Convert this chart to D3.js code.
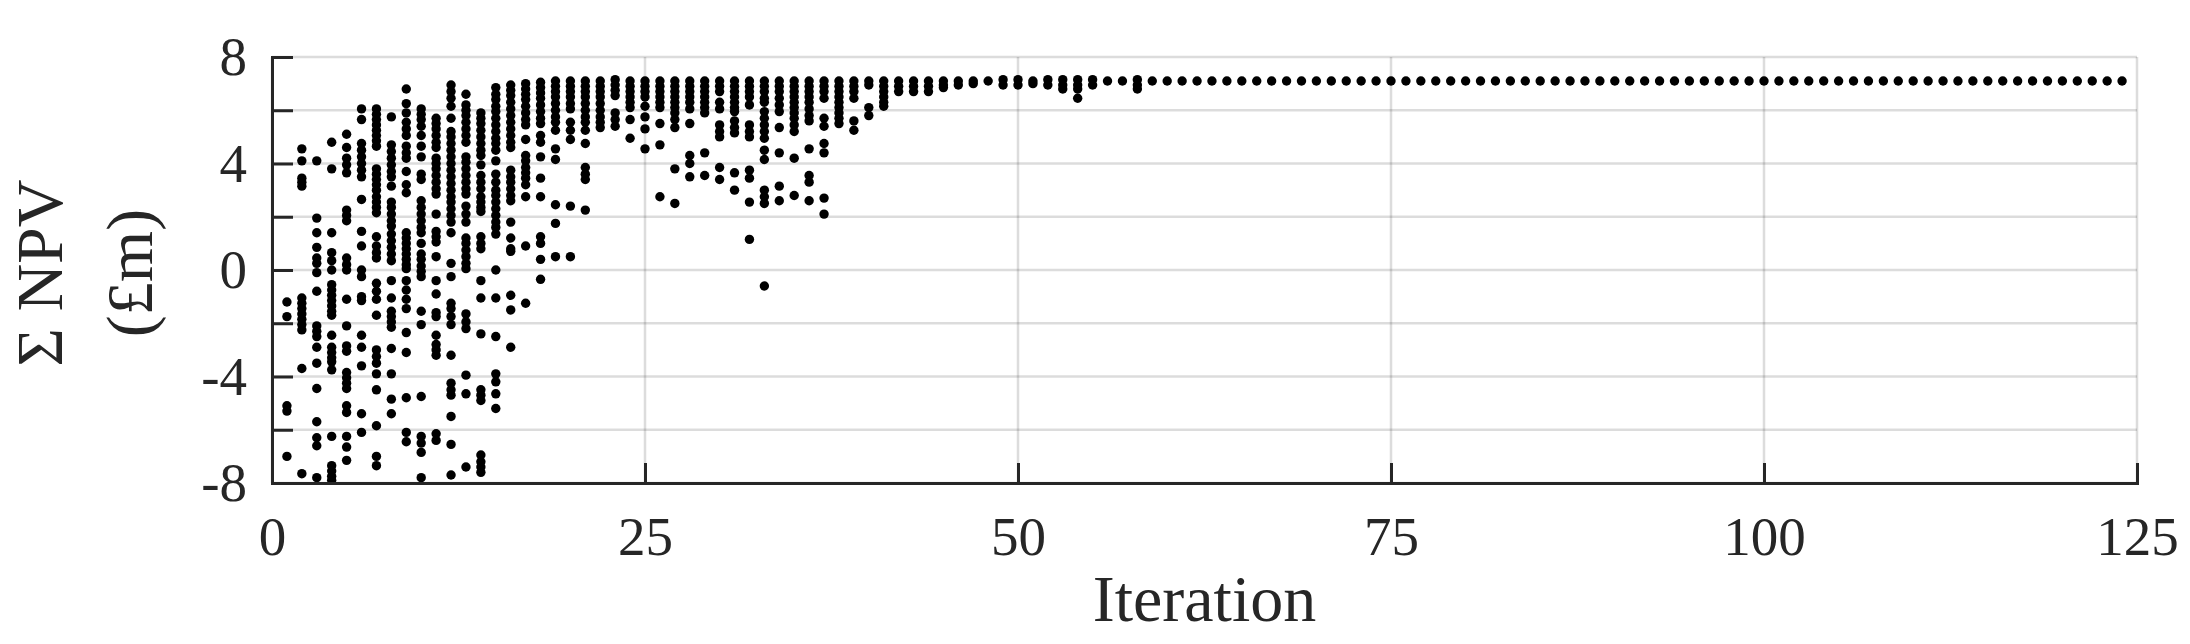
<!DOCTYPE html>
<html>
<head>
<meta charset="utf-8">
<script src="https://cdn.jsdelivr.net/npm/d3@7"></script>
<style>
  body { margin: 0; background: #fff; }
  svg text { font-family: "Liberation Serif", "Times New Roman", serif; fill: #262626; }
</style>
</head>
<body>
<div id="chart"></div>
<script>
// NPV of every candidate, one list per iteration (iteration = first + index)
var npvIter01to10 = [
  [-1.2, -1.75, -5.1, -5.3, -7.0],
  [4.55, 4.1, 3.45, 3.3, 3.15, -1.05, -1.25, -1.45, -1.65, -1.85, -2.05, -2.25, -3.7, -7.65],
  [4.1, 1.95, 1.4, 0.85, 0.45, 0.25, -0.1, -0.8, -2.1, -2.3, -2.5, -2.9, -3.5, -4.45, -5.7, -6.3, -6.6, -7.8],
  [4.8, 3.8, 1.4, 0.65, 0.35, 0.0, -0.55, -0.75, -0.95, -1.15, -1.35, -1.55, -1.7, -2.45, -2.9, -3.1, -3.3, -3.45, -3.75, -6.25, -7.35, -7.55, -7.75, -7.9],
  [5.1, 4.6, 4.2, 3.95, 3.65, 2.25, 2.05, 1.85, 0.45, 0.2, 0.0, -1.1, -2.1, -2.85, -3.05, -3.85, -4.05, -4.25, -4.45, -5.1, -5.35, -6.25, -6.65, -7.15],
  [6.05, 5.65, 4.75, 4.5, 4.25, 4.0, 3.75, 3.5, 2.65, 1.45, 0.9, 0.0, -0.25, -1.0, -1.15, -2.45, -2.9, -3.6, -5.4, -6.1],
  [6.05, 5.85, 5.65, 5.45, 5.25, 5.05, 4.85, 4.65, 3.8, 3.6, 3.4, 3.2, 3.0, 2.75, 2.55, 2.35, 2.15, 1.25, 0.9, 0.65, 0.45, -0.5, -0.8, -1.1, -1.7, -3.0, -3.25, -3.5, -3.9, -4.5, -5.85, -7.0, -7.35],
  [5.75, 4.7, 4.45, 4.2, 3.95, 3.7, 3.5, 3.15, 2.55, 2.35, 2.1, 1.85, 1.65, 1.35, 1.1, 0.85, 0.6, 0.35, -0.4, -1.05, -1.55, -1.75, -1.95, -2.15, -2.95, -3.9, -4.85, -5.4],
  [6.8, 6.25, 5.9, 5.55, 5.3, 5.05, 4.65, 4.4, 4.2, 3.7, 3.2, 2.9, 1.4, 1.2, 1.0, 0.8, 0.6, 0.4, 0.2, 0.05, -0.4, -0.75, -1.1, -1.45, -2.35, -3.1, -4.8, -6.1, -6.45],
  [6.05, 5.85, 5.65, 5.4, 5.05, 4.65, 4.25, 3.6, 3.4, 2.6, 2.35, 2.1, 1.85, 1.6, 1.4, 1.0, 0.6, 0.4, 0.15, -0.05, -0.25, -1.55, -2.05, -4.75, -6.25, -6.5, -6.85, -7.8]
];

var npvIter11to20 = [
  [5.7, 5.5, 5.3, 5.05, 4.8, 4.6, 4.2, 4.0, 3.8, 3.55, 3.3, 3.05, 2.85, 2.1, 1.45, 1.25, 1.05, 0.5, -0.4, -0.9, -1.6, -1.75, -2.45, -2.8, -3.0, -3.2, -6.15, -6.4],
  [6.95, 6.7, 6.45, 6.15, 5.7, 5.2, 5.0, 4.75, 4.5, 4.25, 4.0, 3.75, 3.5, 3.25, 3.0, 2.75, 2.55, 2.3, 2.05, 1.8, 1.4, 0.25, -0.25, -1.25, -1.45, -1.75, -2.05, -3.2, -4.25, -4.5, -4.7, -5.5, -6.55, -7.7],
  [6.6, 6.2, 6.0, 5.8, 5.55, 5.3, 5.05, 4.8, 4.25, 4.05, 3.8, 3.55, 3.3, 3.05, 2.85, 2.4, 2.1, 1.8, 1.2, 1.0, 0.75, 0.5, 0.25, 0.05, -1.65, -1.95, -2.2, -3.95, -4.65, -7.4],
  [5.9, 5.7, 5.5, 5.25, 5.0, 4.75, 4.5, 4.3, 3.95, 3.55, 3.3, 3.05, 2.75, 2.55, 2.35, 2.2, 1.25, 1.0, 0.8, -0.4, -1.05, -2.4, -4.5, -4.7, -4.9, -6.95, -7.2, -7.4, -7.6],
  [6.85, 6.6, 6.4, 6.15, 5.95, 5.7, 5.45, 5.2, 4.95, 4.75, 4.5, 4.1, 3.6, 3.3, 3.0, 2.8, 2.55, 2.3, 2.05, 1.8, 1.6, 1.35, 0.0, -1.05, -2.5, -3.9, -4.2, -4.65, -5.2],
  [6.95, 6.75, 6.55, 6.3, 6.05, 5.8, 5.55, 5.3, 5.05, 4.8, 4.6, 3.75, 3.5, 3.3, 3.05, 2.8, 2.6, 1.8, 1.2, 0.8, 0.7, -0.95, -1.5, -2.9],
  [7.0, 6.8, 6.6, 6.4, 6.15, 5.9, 5.65, 5.45, 4.9, 4.3, 4.1, 3.85, 3.65, 3.45, 3.2, 2.75, 0.9, -1.25],
  [7.05, 6.85, 6.65, 6.45, 6.2, 5.95, 5.7, 5.5, 5.05, 4.8, 4.25, 3.45, 2.75, 1.25, 1.0, 0.4, -0.35],
  [7.1, 6.9, 6.7, 6.5, 6.25, 6.0, 5.75, 5.55, 5.25, 4.55, 4.15, 2.45, 1.75, 0.5],
  [7.1, 6.9, 6.7, 6.5, 6.25, 6.05, 5.55, 5.25, 4.9, 2.4, 0.5]
];

var npvIter21to40 = [
  [7.1, 6.9, 6.7, 6.5, 6.25, 6.0, 5.75, 5.55, 5.25, 4.75, 3.85, 3.6, 3.4, 2.25],
  [7.1, 6.9, 6.7, 6.5, 6.25, 6.0, 5.75, 5.55, 5.35],
  [7.15, 6.95, 6.75, 6.55, 5.9, 5.65, 5.4],
  [7.1, 6.9, 6.7, 6.5, 6.3, 6.1, 5.65, 4.95],
  [7.1, 6.9, 6.7, 6.5, 6.15, 5.75, 5.3, 4.55],
  [7.1, 6.9, 6.7, 6.5, 6.3, 6.1, 5.5, 4.7, 2.75],
  [7.1, 6.9, 6.7, 6.5, 6.3, 6.1, 5.9, 5.65, 5.35, 3.8, 2.5],
  [7.1, 6.9, 6.7, 6.5, 6.3, 6.05, 5.5, 4.3, 4.0, 3.5],
  [7.1, 6.9, 6.7, 6.5, 6.3, 6.1, 5.9, 4.4, 3.55],
  [7.1, 6.9, 6.7, 6.3, 6.05, 5.45, 5.2, 5.0, 3.85, 3.4],
  [7.1, 6.9, 6.7, 6.5, 6.3, 6.1, 5.95, 5.6, 5.35, 5.15, 3.65, 3.0],
  [7.1, 6.9, 6.7, 6.5, 6.2, 5.45, 5.2, 5.0, 3.75, 3.45, 2.55, 1.15],
  [7.1, 6.9, 6.7, 6.45, 6.3, 5.95, 5.7, 5.45, 5.2, 4.95, 4.5, 4.15, 3.0, 2.75, 2.5, -0.6],
  [7.1, 6.9, 6.7, 6.45, 6.2, 5.95, 5.35, 4.4, 3.15, 2.6],
  [7.1, 6.9, 6.7, 6.5, 6.3, 6.1, 5.9, 5.7, 5.45, 5.2, 4.2, 2.8],
  [7.1, 6.9, 6.7, 6.5, 6.3, 6.05, 5.8, 5.6, 4.55, 3.55, 3.3, 2.6],
  [7.1, 6.9, 6.7, 6.45, 5.7, 5.4, 4.75, 4.4, 2.7, 2.1],
  [7.1, 6.9, 6.7, 6.5, 6.3, 6.1, 5.9, 5.7, 5.5],
  [7.1, 6.9, 6.7, 6.45, 5.6, 5.25],
  [7.1, 6.95, 6.1, 5.8]
];

var npvIter41to58 = [
  [7.1, 6.9, 6.7, 6.5, 6.3, 6.15],
  [7.1, 6.9, 6.7],
  [7.1, 6.9, 6.7],
  [7.1, 6.9, 6.7],
  [7.1, 6.95, 6.85],
  [7.1, 6.95],
  [7.1, 7.0],
  [7.1],
  [7.15, 6.95],
  [7.15, 6.95],
  [7.1, 7.0],
  [7.15, 6.95],
  [7.15, 6.95, 6.8],
  [7.15, 6.95, 6.8, 6.45],
  [7.15, 6.95],
  [7.1],
  [7.1],
  [7.15, 6.95, 6.8]
];

// converged: one value per iteration from 59 to 124
var npvIter59to124 = [
  7.1, 7.1, 7.1, 7.1, 7.1, 7.1, 7.1, 7.1, 7.1, 7.1, 7.1,
  7.1, 7.1, 7.1, 7.1, 7.1, 7.1, 7.1, 7.1, 7.1, 7.1, 7.1,
  7.1, 7.1, 7.1, 7.1, 7.1, 7.1, 7.1, 7.1, 7.1, 7.1, 7.1,
  7.1, 7.1, 7.1, 7.1, 7.1, 7.1, 7.1, 7.1, 7.1, 7.1, 7.1,
  7.1, 7.1, 7.1, 7.1, 7.1, 7.1, 7.1, 7.1, 7.1, 7.1, 7.1,
  7.1, 7.1, 7.1, 7.1, 7.1, 7.1, 7.1, 7.1, 7.1, 7.1, 7.1
];

var xTicks = [0, 25, 50, 75, 100, 125];
var yTicks = [-8, -6, -4, -2, 0, 2, 4, 6, 8];
var yTickLabels = [-8, -4, 0, 4, 8];

// flatten into {iter, npv} points
var points = [];
function addBlock(block, first) {
  block.forEach(function (vals, k) {
    vals.forEach(function (v) { points.push({ iter: first + k, npv: v }); });
  });
}
addBlock(npvIter01to10, 1);
addBlock(npvIter11to20, 11);
addBlock(npvIter21to40, 21);
addBlock(npvIter41to58, 41);
npvIter59to124.forEach(function (v, k) { points.push({ iter: 59 + k, npv: v }); });

var W = 2190, H = 644;
var margin = { top: 57, right: 53, bottom: 161, left: 272 };
var width = W - margin.left - margin.right;
var height = H - margin.top - margin.bottom;

var x = d3.scaleLinear().domain([0, 125]).range([0, width]);
var y = d3.scaleLinear().domain([-8, 8]).range([height, 0]);

var svg = d3.select('#chart').append('svg')
  .attr('width', W)
  .attr('height', H);

var main = svg.append('g')
  .attr('transform', 'translate(' + margin.left + ',' + margin.top + ')');

// grid
var grid = main.append('g')
  .attr('stroke', '#262626')
  .attr('stroke-opacity', 0.16)
  .attr('stroke-width', 2.5);
grid.selectAll('.gy').data(yTicks).enter().append('line')
  .attr('x1', 0).attr('x2', width)
  .attr('y1', function (d) { return y(d); })
  .attr('y2', function (d) { return y(d); });
grid.selectAll('.gx').data(xTicks).enter().append('line')
  .attr('y1', 0).attr('y2', height)
  .attr('x1', function (d) { return x(d); })
  .attr('x2', function (d) { return x(d); });

// points
main.append('g').selectAll('circle')
  .data(points)
  .enter().append('circle')
  .attr('cx', function (d) { return x(d.iter); })
  .attr('cy', function (d) { return y(d.npv); })
  .attr('r', 4.7)
  .attr('fill', '#000');

// axes
var xAxis = d3.axisBottom(x)
  .tickValues(xTicks)
  .tickSizeInner(-20)
  .tickSizeOuter(0)
  .tickPadding(33)
  .tickFormat(function (d) { return String(d); });

var yAxis = d3.axisLeft(y)
  .tickValues(yTicks)
  .tickSizeInner(-21)
  .tickSizeOuter(0)
  .tickPadding(25)
  .tickFormat(function (d) { return yTickLabels.indexOf(d) >= 0 ? String(d) : ''; });

var gx = main.append('g')
  .attr('transform', 'translate(0,' + height + ')')
  .call(xAxis);
var gy = main.append('g').call(yAxis);

[gx, gy].forEach(function (g) {
  g.select('.domain').attr('stroke', '#262626').attr('stroke-width', 3).attr('stroke-linecap', 'square');
  g.selectAll('.tick line').attr('stroke', '#262626').attr('stroke-width', 3);
  g.selectAll('.tick text')
    .attr('font-family', '"Liberation Serif", serif')
    .attr('font-size', 55)
    .attr('fill', '#262626');
});

// axis titles
svg.append('text')
  .attr('x', margin.left + width / 2)
  .attr('y', 621)
  .attr('text-anchor', 'middle')
  .attr('font-size', 66)
  .text('Iteration');

svg.append('text')
  .attr('transform', 'translate(62,' + (margin.top + height / 2 + 3) + ') rotate(-90)')
  .attr('text-anchor', 'middle')
  .attr('font-size', 66)
  .text('\u03A3 NPV');

svg.append('text')
  .attr('transform', 'translate(152,' + (margin.top + height / 2 + 3) + ') rotate(-90)')
  .attr('text-anchor', 'middle')
  .attr('font-size', 66)
  .text('(\u00A3m)');
</script>
</body>
</html>
